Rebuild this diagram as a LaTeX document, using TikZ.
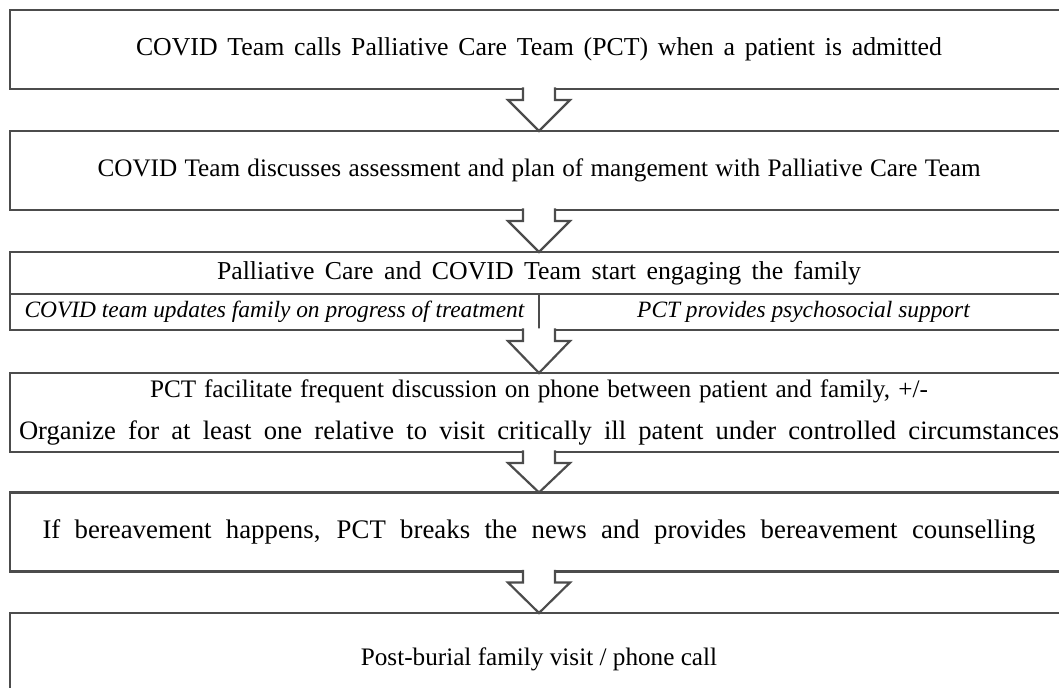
\documentclass[tikz,border=0pt]{standalone}
\usepackage{fontspec}
\setmainfont{Liberation Serif}
\usetikzlibrary{positioning,calc}
\tikzset{
        block/.style={draw=black!70, line width=1.1pt, minimum width=529pt, minimum height=39.5pt, outer sep=0pt, inner sep=0pt, align=center, font=\fontsize{12.6}{21}\selectfont},
        cell/.style={draw=black!70, line width=1.1pt, minimum width=264.5pt, minimum height=18pt, outer sep=0pt, inner sep=0pt, font=\fontsize{11.7}{13}\selectfont\itshape},
        line/.style={draw=black!70, line width=1.1pt, fill=white, line join=miter}
    }
% hollow block arrow from the bottom of one box to the top of the next
\newcommand{\steparrow}[2]{%
    \draw[line] ($#1+(-16,-1.5)$) -- ($#1+(-16,11)$) -- ($#1+(-31,11)$) -- #2
        -- ($#1+(31,11)$) -- ($#1+(16,11)$) -- ($#1+(16,-1.5)$);}
% one line of text at a given size, spread to a given width
\newcommand{\wideline}[3]{{\fontsize{#1}{21}\selectfont\makebox[#2][s]{#3}}}

\begin{document}
\begin{tikzpicture}[x=0.5pt, y=-0.5pt]
    \useasboundingbox (0,0) rectangle (1059,688);

    % the steps, top to bottom
    \node[block] (call) at (539, 49.5) {\wideline{12.9}{403pt}{COVID Team calls Palliative Care Team (PCT) when a patient is admitted}};
    \node[block] (plan) at (539, 170.5) {\makebox[441.5pt][s]{COVID Team discusses assessment and plan of mangement with Palliative Care Team}};

    % engaging the family, split in two below
    \node[block, minimum height=21pt] (engage) at (539, 273) {\wideline{12.9}{322pt}{Palliative Care and COVID Team start engaging the family}};
    \node[cell] (update) at (274.5, 312) {COVID team updates family on progress of treatment};
    \node[cell] (support) at (803.5, 312) {PCT provides psychosocial support};
    \coordinate (engbot) at (update.south east);

    \node[block] (phone) at (539, 412.5) {\makebox[389pt][s]{PCT facilitate frequent discussion on phone between patient and family, +/-}\\
        \wideline{13.3}{520pt}{Organize for at least one relative to visit critically ill patent under controlled circumstances}};
    \node[block] (grief) at (539, 532) {\wideline{13.4}{496.5pt}{If bereavement happens, PCT breaks the news and provides bereavement counselling}};
    \node[block, minimum height=46pt] (visit) at (539, 659) {Post-burial family visit / phone call};

    % arrows between the steps
    \steparrow{(call.south)}{(plan.north)}
    \steparrow{(plan.south)}{(engage.north)}
    \steparrow{(engbot)}{(phone.north)}
    \steparrow{(phone.south)}{(grief.north)}
    \steparrow{(grief.south)}{(visit.north)}

\end{tikzpicture}
\end{document}
